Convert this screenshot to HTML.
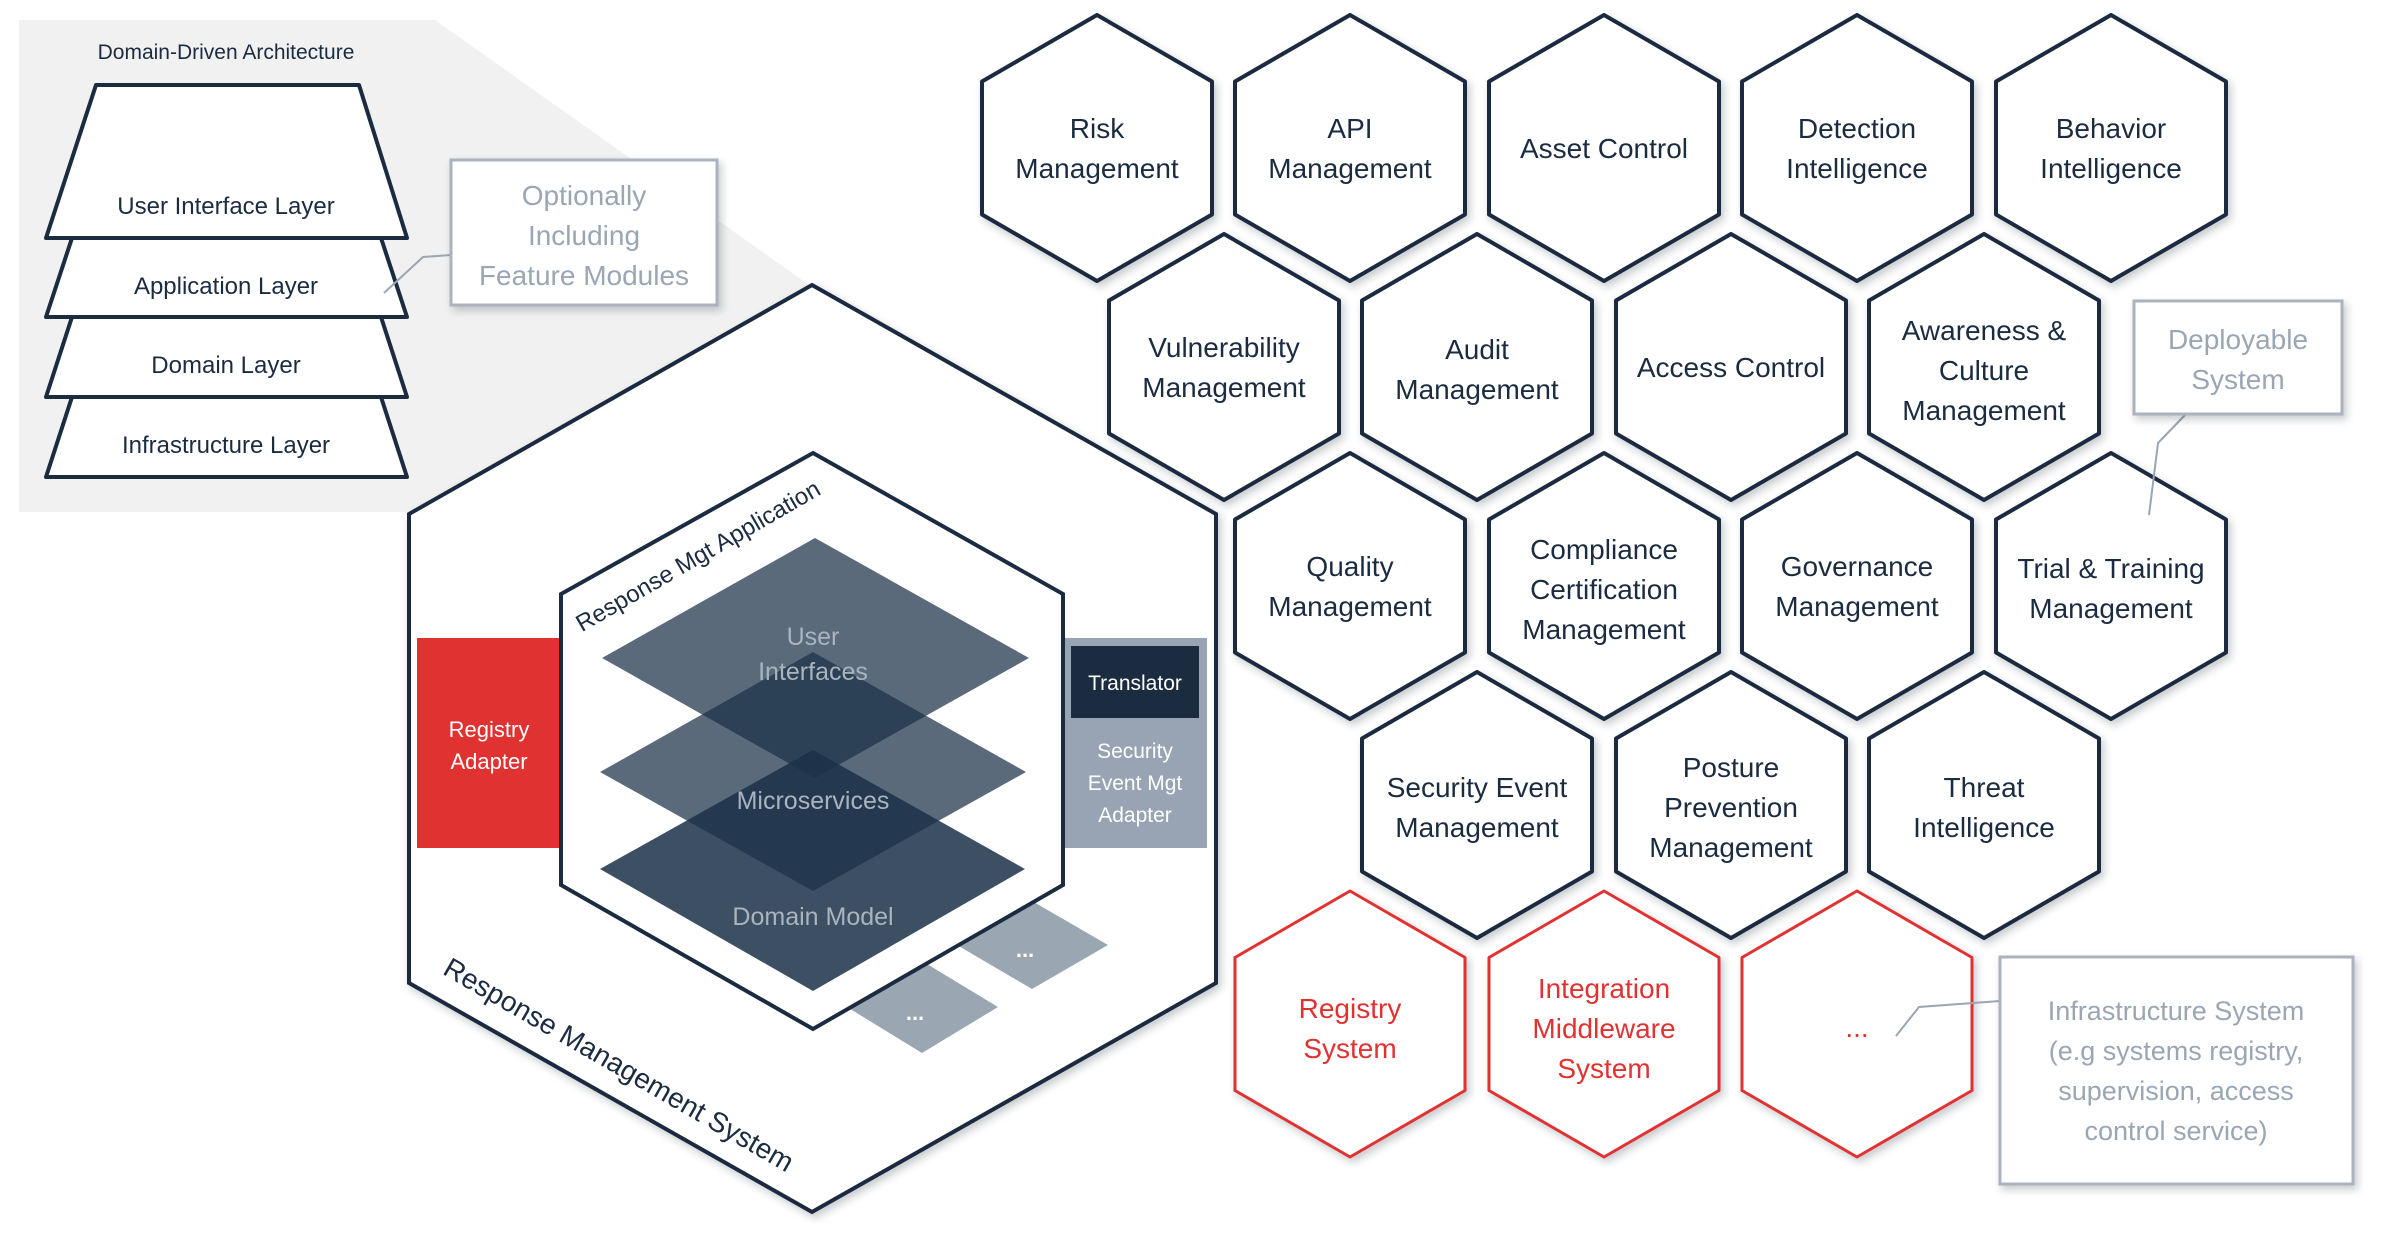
<!DOCTYPE html>
<html><head><meta charset="utf-8"><style>
html,body{margin:0;padding:0;background:#fff;}
svg{display:block;}
text{font-family:"Liberation Sans",sans-serif;}
</style></head><body>
<svg width="2384" height="1256" viewBox="0 0 2384 1256" xmlns="http://www.w3.org/2000/svg">
<defs>
<polygon id="hx" points="0,-133 115,-66.5 115,66.5 0,133 -115,66.5 -115,-66.5"/>
<filter id="sh" x="-20%" y="-20%" width="140%" height="140%"><feDropShadow dx="3" dy="4" stdDeviation="4" flood-color="#1b2b40" flood-opacity="0.25"/></filter>
</defs>
<polygon points="19,20 435,20 812,287 409,512 19,512" fill="#f1f1f1"/>
<text x="226" y="59" font-size="21" fill="#1b2b40" text-anchor="middle">Domain-Driven Architecture</text>
<g fill="#fff" stroke="#1b2b40" stroke-width="4" stroke-linejoin="round">
<polygon points="72,397 381,397 407,477 46,477"/>
<polygon points="72,317 381,317 407,397 46,397"/>
<polygon points="72,238 381,238 407,317 46,317"/>
<polygon points="96,85 359,85 407,238 46,238"/>
</g>
<g font-size="24" fill="#1b2b40" text-anchor="middle">
<text x="226" y="214">User Interface Layer</text>
<text x="226" y="294">Application Layer</text>
<text x="226" y="373">Domain Layer</text>
<text x="226" y="453">Infrastructure Layer</text>
</g>
<polyline points="451,255 423,257 384,293" fill="none" stroke="#9ba6b3" stroke-width="2"/>
<rect x="451" y="160" width="266" height="145" fill="#fff" stroke="#aab3be" stroke-width="3" filter="url(#sh)"/>
<g font-size="28" fill="#9aa6b3" text-anchor="middle">
<text x="584" y="205">Optionally</text>
<text x="584" y="245">Including</text>
<text x="584" y="285">Feature Modules</text>
</g>
<polygon points="812,285 1216,514 1216,983 812,1212 409,983 409,514" fill="#fff" stroke="#1b2b40" stroke-width="4" filter="url(#sh)"/>
<polygon points="957,945 1032,901 1108,945 1032,989" fill="#9ba6b3"/>
<polygon points="847,1007 922,961 998,1007 922,1053" fill="#9ba6b3"/>
<text x="1025" y="957" font-size="22" fill="#fff" text-anchor="middle" font-weight="bold">...</text>
<text x="915" y="1020" font-size="22" fill="#fff" text-anchor="middle" font-weight="bold">...</text>
<rect x="417" y="638" width="146" height="210" fill="#e03331"/>
<text x="489" y="737" font-size="22" fill="#fff" text-anchor="middle">Registry</text>
<text x="489" y="769" font-size="22" fill="#fff" text-anchor="middle">Adapter</text>
<rect x="1061" y="638" width="146" height="210" fill="#98a4b3"/>
<rect x="1071" y="646" width="128" height="72" fill="#1b2b40"/>
<text x="1135" y="690" font-size="21" fill="#fff" text-anchor="middle">Translator</text>
<g font-size="21" fill="#fff" text-anchor="middle">
<text x="1135" y="758">Security</text>
<text x="1135" y="790">Event Mgt</text>
<text x="1135" y="822">Adapter</text>
</g>
<polygon points="813,453 1063,594 1063,885 813,1029 561,885 561,594" fill="#fff" stroke="#1b2b40" stroke-width="4"/>
<polygon points="600,869 813,750 1025,869 813,991" fill="#1b3148" fill-opacity="0.85"/>
<polygon points="600,772 813,652 1026,772 813,891" fill="#1b3148" fill-opacity="0.72"/>
<polygon points="602,658 815,538 1029,658 815,778" fill="#1b3148" fill-opacity="0.72"/>
<g font-size="25" fill="#aab4bf" text-anchor="middle">
<text x="813" y="645">User</text>
<text x="813" y="680">Interfaces</text>
<text x="813" y="809">Microservices</text>
<text x="813" y="925">Domain Model</text>
</g>
<text x="0" y="0" font-size="24" fill="#1b2b40" text-anchor="middle" transform="translate(702,563) rotate(-30)">Response Mgt Application</text>
<text x="0" y="0" font-size="28" fill="#1b2b40" text-anchor="middle" transform="translate(614,1073) rotate(30)">Response Management System</text>
<g fill="#fff" stroke="#1b2b40" stroke-width="4" stroke-linejoin="round" filter="url(#sh)">
<use href="#hx" x="1097" y="148"/><use href="#hx" x="1350" y="148"/><use href="#hx" x="1604" y="148"/><use href="#hx" x="1857" y="148"/><use href="#hx" x="2111" y="148"/>
<use href="#hx" x="1224" y="367"/><use href="#hx" x="1477" y="367"/><use href="#hx" x="1731" y="367"/><use href="#hx" x="1984" y="367"/>
<use href="#hx" x="1350" y="586"/><use href="#hx" x="1604" y="586"/><use href="#hx" x="1857" y="586"/><use href="#hx" x="2111" y="586"/>
<use href="#hx" x="1477" y="805"/><use href="#hx" x="1731" y="805"/><use href="#hx" x="1984" y="805"/>
</g>
<g fill="#fff" stroke="#e03331" stroke-width="3" stroke-linejoin="round" filter="url(#sh)">
<use href="#hx" x="1350" y="1024"/><use href="#hx" x="1604" y="1024"/><use href="#hx" x="1857" y="1024"/>
</g>
<g font-size="28" fill="#1b2b40" text-anchor="middle">
<text x="1097" y="138">Risk</text><text x="1097" y="178">Management</text>
<text x="1350" y="138">API</text><text x="1350" y="178">Management</text>
<text x="1604" y="158">Asset Control</text>
<text x="1857" y="138">Detection</text><text x="1857" y="178">Intelligence</text>
<text x="2111" y="138">Behavior</text><text x="2111" y="178">Intelligence</text>
<text x="1224" y="357">Vulnerability</text><text x="1224" y="397">Management</text>
<text x="1477" y="359">Audit</text><text x="1477" y="399">Management</text>
<text x="1731" y="377">Access Control</text>
<text x="1984" y="340">Awareness &amp;</text><text x="1984" y="380">Culture</text><text x="1984" y="420">Management</text>
<text x="1350" y="576">Quality</text><text x="1350" y="616">Management</text>
<text x="1604" y="559">Compliance</text><text x="1604" y="599">Certification</text><text x="1604" y="639">Management</text>
<text x="1857" y="576">Governance</text><text x="1857" y="616">Management</text>
<text x="2111" y="578">Trial &amp; Training</text><text x="2111" y="618">Management</text>
<text x="1477" y="797">Security Event</text><text x="1477" y="837">Management</text>
<text x="1731" y="777">Posture</text><text x="1731" y="817">Prevention</text><text x="1731" y="857">Management</text>
<text x="1984" y="797">Threat</text><text x="1984" y="837">Intelligence</text>
</g>
<g font-size="28" fill="#e03331" text-anchor="middle">
<text x="1350" y="1018">Registry</text><text x="1350" y="1058">System</text>
<text x="1604" y="998">Integration</text><text x="1604" y="1038">Middleware</text><text x="1604" y="1078">System</text>
<text x="1857" y="1037">...</text>
</g>
<polyline points="2186,414 2158,443 2149,515" fill="none" stroke="#9ba6b3" stroke-width="2"/>
<rect x="2134" y="301" width="208" height="113" fill="#fff" stroke="#aab3be" stroke-width="3" filter="url(#sh)"/>
<text x="2238" y="349" font-size="28" fill="#9aa6b3" text-anchor="middle">Deployable</text>
<text x="2238" y="389" font-size="28" fill="#9aa6b3" text-anchor="middle">System</text>
<polyline points="2000,1001 1919,1007 1896,1036" fill="none" stroke="#9ba6b3" stroke-width="2"/>
<rect x="2000" y="957" width="353" height="227" fill="#fff" stroke="#aab3be" stroke-width="3" filter="url(#sh)"/>
<g font-size="27" fill="#9aa6b3" text-anchor="middle">
<text x="2176" y="1020">Infrastructure System</text>
<text x="2176" y="1060">(e.g systems registry,</text>
<text x="2176" y="1100">supervision, access</text>
<text x="2176" y="1140">control service)</text>
</g>
</svg>
</body></html>
